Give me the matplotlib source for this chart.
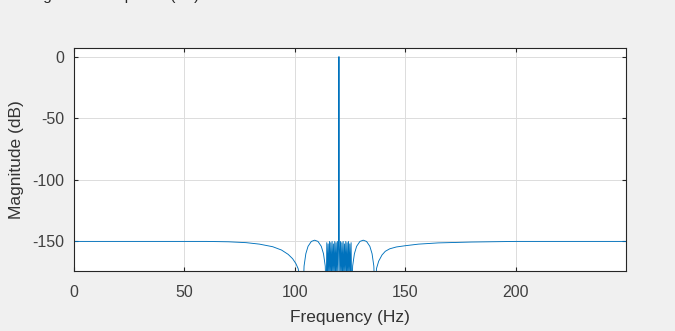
import matplotlib.pyplot as plt

# values (Hz, dB)
freq_hz = [0, 60, 70, 78, 84, 90, 94, 97, 99, 100.5, 101.5, 102.5, 103.6,
           104.2, 105, 106, 107.5, 109, 110.5, 112, 113, 113.8, 114.2,
           114.5, 114.8, 115.1, 115.4, 115.7, 116.0, 116.3, 116.6, 116.9, 117.2,
           117.5, 117.8, 118.1, 118.4, 118.7, 119.0, 119.3, 119.6, 119.85,
           120.0,
           120.15, 120.4, 120.7, 121.0, 121.3, 121.6, 121.9, 122.2, 122.5, 122.8,
           123.1, 123.4, 123.7, 124.0, 124.3, 124.6, 124.9, 125.2, 125.5, 125.8,
           126.2, 127, 128, 129.5, 131, 132.5, 134, 135, 135.8, 136.4,
           137, 138, 139.5, 141, 143, 146, 150, 156, 165, 180, 200, 250]
mag_db = [-150, -150, -150.3, -151, -152.2, -154.3, -157, -160.5, -164, -168, -172, -180, -200,
          -170, -160, -154, -150, -149, -150, -154, -160, -170, -195,
          -151, -178, -152, -180, -150, -177, -151, -182, -150, -176,
          -152, -179, -150, -178, -151, -180, -150, -175, -150,
          0,
          -150, -177, -150, -180, -151, -178, -150, -181, -152, -176,
          -150, -179, -151, -182, -150, -177, -152, -180, -151, -195,
          -170, -160, -154, -150, -149, -150, -154, -160, -170, -200,
          -172, -166, -161, -158, -156, -154.5, -153.5, -152.2, -151.2, -150.5, -150, -150]

x_ticks = [0, 50, 100, 150, 200]
y_ticks = [0, -50, -100, -150]

plt.rcParams['font.family'] = ['Liberation Sans', 'DejaVu Sans']
plt.rcParams['axes.unicode_minus'] = False

fig = plt.figure(figsize=(6.75, 3.31), dpi=100, facecolor='#f0f0f0')
ax = fig.add_axes([0.1096, 0.1813, 0.8178, 0.6737])
ax.set_facecolor('white')

ax.plot(freq_hz, mag_db, color='#0072bd', linewidth=0.65)

ax.set_xlim(0, 250)
ax.set_ylim(-174, 7)
ax.set_xticks(x_ticks)
ax.set_yticks(y_ticks)

ax.set_xlabel('Frequency (Hz)', fontsize=12.5, color='#333333', labelpad=7)
ax.set_ylabel('Magnitude (dB)', fontsize=12.5, color='#333333', labelpad=6)

# matlab-like box with inward ticks on all sides
for s in ['top', 'bottom', 'left', 'right']:
    ax.spines[s].set_color('#262626')
    ax.spines[s].set_linewidth(0.8)
ax.tick_params(direction='in', top=True, right=True, length=3, width=0.8,
               colors='#262626', labelsize=11.5, pad=10)
ax.tick_params(axis='both', labelcolor='#404040')
ax.tick_params(axis='y', pad=7)

ax.grid(True, color='#dcdcdc', linewidth=0.7)
ax.set_axisbelow(True)

# title cut off at the top edge of the screenshot (only descenders show)
fig.text(0.033, 1.0, 'Magnitude Response (dB)', fontsize=11, color='#262626',
         va='baseline', ha='left')

fig.savefig('out.png', dpi=100, facecolor=fig.get_facecolor())
